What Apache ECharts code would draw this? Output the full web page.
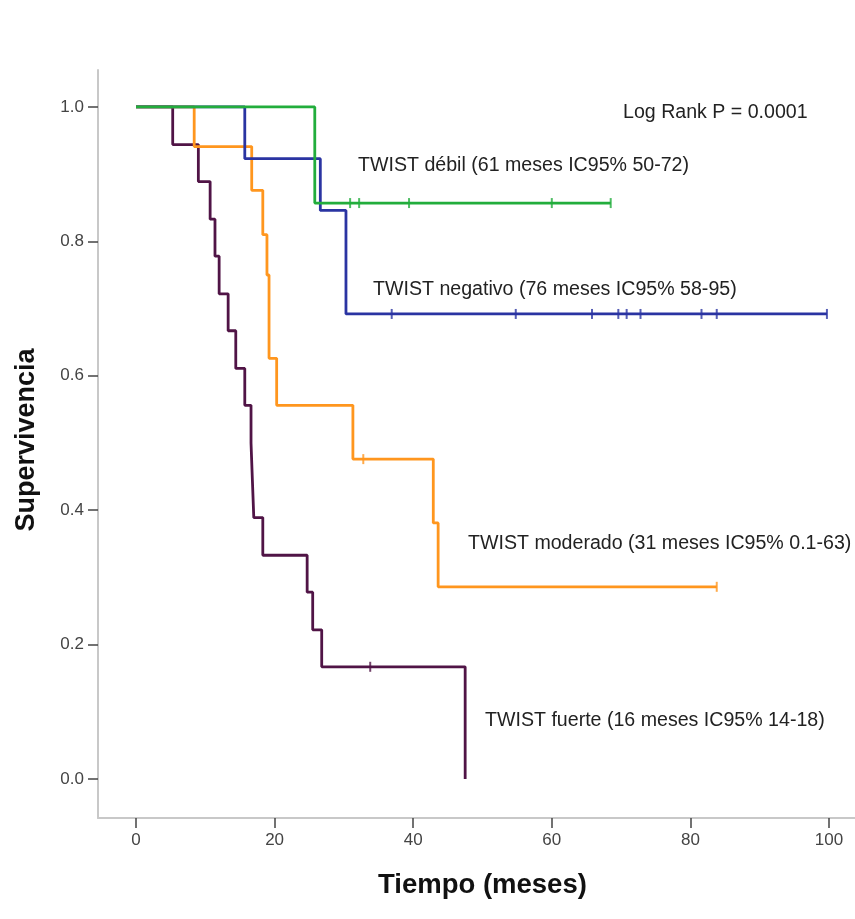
<!DOCTYPE html>
<html>
<head>
<meta charset="utf-8">
<script src="https://cdn.jsdelivr.net/npm/echarts@6/dist/echarts.min.js"></script>
<style>html,body{margin:0;padding:0;background:#fff;}#c{width:855px;height:919px;}</style>
</head>
<body>
<div id="c"></div>
<script>
// Kaplan-Meier step points [time (months), survival]
const fuerte = [[0,1],[5.3,0.944],[9.0,0.889],[10.7,0.833],[11.4,0.778],[12.0,0.722],[13.3,0.667],[14.4,0.611],[15.7,0.556],[16.6,0.5],[16.8,0.444],[17.0,0.389],[18.3,0.333],[24.7,0.278],[25.5,0.222],[26.8,0.167],[47.5,0]];
const fuerteCensor = [[33.8,0.167]];
const moderado = [[0,1],[8.4,0.941],[16.7,0.876],[18.3,0.81],[18.9,0.75],[19.2,0.626],[20.3,0.556],[31.3,0.476],[42.9,0.381],[43.6,0.286],[83.8,0.286]];
const moderadoCensor = [[32.8,0.476],[83.8,0.286]];
const negativo = [[0,1],[15.7,0.923],[26.6,0.846],[30.3,0.692],[99.7,0.692]];
const negativoCensor = [[36.9,0.692],[54.8,0.692],[65.8,0.692],[69.6,0.692],[70.8,0.692],[72.8,0.692],[81.6,0.692],[83.8,0.692],[99.7,0.692]];
const debil = [[0,1],[25.8,0.857],[68.5,0.857]];
const debilCensor = [[30.9,0.857],[32.2,0.857],[39.4,0.857],[60.0,0.857],[68.5,0.857]];
const xTicks = [0,20,40,60,80,100];
const yTicks = [0,0.2,0.4,0.6,0.8,1.0];
const labels = {
  logrank: 'Log Rank P = 0.0001',
  debil: 'TWIST débil (61 meses IC95% 50-72)',
  negativo: 'TWIST negativo (76 meses IC95% 58-95)',
  moderado: 'TWIST moderado (31 meses IC95% 0.1-63)',
  fuerte: 'TWIST fuerte (16 meses IC95% 14-18)'
};
const colors = {fuerte:'#501446', moderado:'#ff961e', negativo:'#2a34a2', debil:'#22ad3c'};

function lineSeries(data, color){
  return {type:'line', step:'end', data:data, showSymbol:false, symbol:'none',
    lineStyle:{color:color, width:2.8}, animation:false, z:2};
}
function censorSeries(data, color){
  return {type:'scatter', data:data, symbol:'rect', symbolSize:[2,10],
    itemStyle:{color:color}, animation:false, z:3};
}
const txt = (x,y,t)=>({type:'text', x:x, y:y, style:{text:t, fill:'#222', font:'19.6px "Liberation Sans", Arial, sans-serif', align:'left', verticalAlign:'middle'}});

const chart = echarts.init(document.getElementById('c'));
chart.setOption({
  backgroundColor:'#fff',
  animation:false,
  grid:{left:98, right:0, top:70, bottom:101},
  xAxis:{type:'value', min:-5.48, max:103.75,
    axisLine:{show:true, onZero:false, lineStyle:{color:'#c8c8c8', width:2}},
    axisTick:{show:true, customValues:xTicks, length:10, lineStyle:{color:'#444', width:1.5}},
    axisLabel:{customValues:xTicks, color:'#444', fontSize:17, margin:14, fontFamily:'Liberation Sans'},
    splitLine:{show:false}},
  yAxis:{type:'value', min:-0.058, max:1.055,
    axisLine:{show:true, onZero:false, lineStyle:{color:'#c8c8c8', width:2}},
    axisTick:{show:true, customValues:yTicks, length:10, lineStyle:{color:'#444', width:1.5}},
    axisLabel:{customValues:yTicks, color:'#444', fontSize:17, margin:14, fontFamily:'Liberation Sans',
      formatter:v=>v.toFixed(1)},
    splitLine:{show:false}},
  graphic:[
    {type:'text', left:378, top:871, style:{text:'Tiempo (meses)', fill:'#111', font:'bold 27.5px "Liberation Sans", Arial, sans-serif'}},
    {type:'text', x:27, y:440, rotation:Math.PI/2, style:{text:'Supervivencia', fill:'#111', font:'bold 27px "Liberation Sans", Arial, sans-serif', align:'center', verticalAlign:'middle'}},
    txt(623,113,labels.logrank),
    txt(358,166,labels.debil),
    txt(373,290,labels.negativo),
    txt(468,544,labels.moderado),
    txt(485,721,labels.fuerte)
  ],
  series:[
    lineSeries(fuerte, colors.fuerte), censorSeries(fuerteCensor, colors.fuerte),
    lineSeries(moderado, colors.moderado), censorSeries(moderadoCensor, colors.moderado),
    lineSeries(negativo, colors.negativo), censorSeries(negativoCensor, colors.negativo),
    lineSeries(debil, colors.debil), censorSeries(debilCensor, colors.debil)
  ]
});
</script>
</body>
</html>
